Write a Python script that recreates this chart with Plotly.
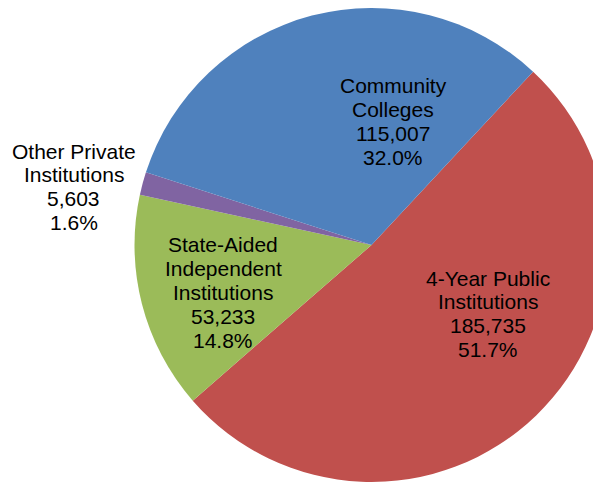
import plotly.graph_objects as go

# Data
categories = ["4-Year Public Institutions", "State-Aided Independent Institutions",
              "Other Private Institutions", "Community Colleges"]
label_lines = [["4-Year Public", "Institutions"],
               ["State-Aided", "Independent", "Institutions"],
               ["Other Private", "Institutions"],
               ["Community", "Colleges"]]
values = [185735, 53233, 5603, 115007]
colors = ["#C0504D", "#9BBB59", "#8064A2", "#4F81BD"]

W, H = 620, 483
OFF = 8  # page body margin
# label anchor (center x, first baseline y) in screen pixels
label_pos = [(488, 284), (223, 251), (73.5, 157), (393, 92)]
LINE = 23.8
FS = 21

cx0, cy0, R = 371.5 - OFF, 245 - OFF, 237
fig = go.Figure(go.Pie(
    labels=categories, values=values, sort=False, direction="clockwise",
    rotation=43, textinfo="none", hoverinfo="label+value+percent",
    marker=dict(colors=colors, line=dict(width=0)),
    domain=dict(x=[(cx0 - R) / W, (cx0 + R) / W],
                y=[max(0.0, (H - (cy0 + R)) / H), (H - (cy0 - R)) / H]),
    showlegend=False,
))

total = sum(values)
annotations = []
for lines, v, (cx, by) in zip(label_lines, values, label_pos):
    all_lines = lines + [f"{v:,}", f"{100 * v / total:.1f}%"]
    for i, t in enumerate(all_lines):
        py = by + i * LINE - 6 - OFF
        annotations.append(dict(
            x=(cx - OFF) / W, y=1 - py / H, xref="paper", yref="paper",
            text=t, showarrow=False, xanchor="center", yanchor="middle",
            font=dict(family="Liberation Sans, Arial", size=FS, color="#000000"),
        ))

fig.update_layout(
    width=W, height=H, margin=dict(l=0, r=0, t=0, b=0),
    paper_bgcolor="white", plot_bgcolor="white",
    annotations=annotations,
)
fig.write_html("out.html")
